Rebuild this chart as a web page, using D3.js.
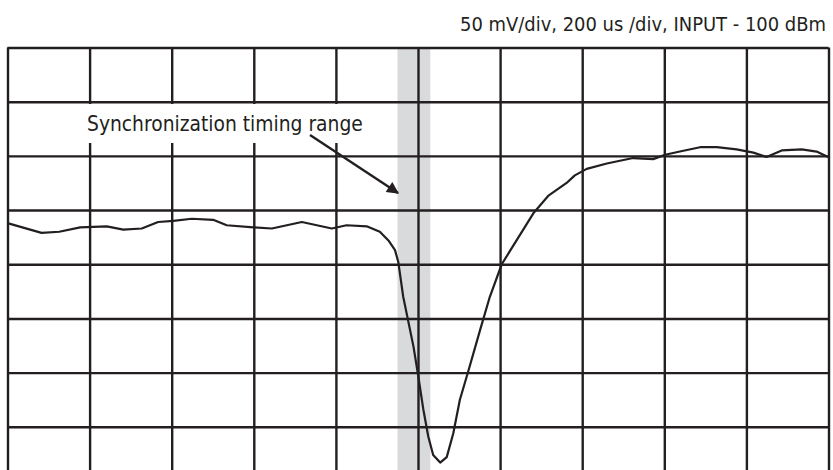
<!DOCTYPE html>
<html>
<head>
<meta charset="utf-8">
<script src="https://cdn.jsdelivr.net/npm/d3@7"></script>
<style>
    body { margin: 0; background: #fff; }
    svg text { font-family: "Liberation Sans Narrow", "DejaVu Sans Condensed", "Arial Narrow", sans-serif; fill: #231f20; }
</style>
</head>
<body>
<div id="body"></div>
<script>
// scope settings (time in us, signal in mV above bottom graticule line)
var timeDomain = [0, 2000];
var voltDomain = [0, 400];
var timeTicks = [0, 200, 400, 600, 800, 1000, 1200, 1400, 1600, 1800, 2000];
var voltTicks = [0, 50, 100, 150, 200, 250, 300, 350, 400];
var syncRange = [950, 1030];

var traceTime = [0, 83, 126, 177, 242, 282, 327, 367, 404, 449, 501, 534, 599, 644, 717, 790, 826, 875, 907, 928, 944, 952, 964, 989, 1001, 1013, 1025, 1037, 1054, 1070, 1086, 1102, 1123, 1151, 1175, 1204, 1281, 1317, 1362, 1382, 1411, 1460, 1524, 1573, 1602, 1638, 1687, 1728, 1776, 1817, 1849, 1886, 1935, 1971, 1999];
var traceVolt = [238, 229, 230, 234, 235, 232, 233, 239, 240, 242, 241, 236, 234, 233, 239, 233, 236, 235, 230, 222, 213, 202, 170, 124, 96, 66, 41, 24, 17, 22, 44, 75, 102, 139, 170, 200, 247, 263, 275, 282, 288, 293, 298, 297, 301, 304, 308, 308, 306, 303, 299, 305, 306, 304, 299];

var title = '50 mV/div, 200 us /div, INPUT - 100 dBm';
var note = 'Synchronization timing range';

var width = 833, height = 470;
var margins = {left: 7.5, right: 4.5, top: 47.5, bottom: -11};
var ink = '#231f20';

var svg = d3.select('#body').append('svg')
    .attr('width', width)
    .attr('height', height);

var x = d3.scaleLinear().domain(timeDomain).range([margins.left, width - margins.right]);
var y = d3.scaleLinear().domain(voltDomain).range([height - margins.bottom, margins.top]);

// shrink/grow a text's font so it spans the wanted width
function fitText(sel, target) {
    let size = 21;
    sel.attr('font-size', size);
    let w = sel.node().getComputedTextLength();
    size = Math.min(22, size * target / w);
    sel.attr('font-size', size.toFixed(2));
}

// sync band sits under the graticule
svg.append('rect')
    .attr('x', x(syncRange[0]))
    .attr('y', y(voltDomain[1]))
    .attr('width', x(syncRange[1]) - x(syncRange[0]))
    .attr('height', y(voltDomain[0]) - y(voltDomain[1]))
    .attr('fill', '#d9dadc');

// graticule from axes
svg.append('g')
    .attr('class', 'grid x')
    .attr('transform', `translate(0, ${y(voltDomain[0])})`)
    .call(d3.axisBottom(x).tickValues(timeTicks).tickSize(-(y(voltDomain[0]) - y(voltDomain[1]))).tickFormat(''));
svg.append('g')
    .attr('class', 'grid y')
    .attr('transform', `translate(${x(timeDomain[0])}, 0)`)
    .call(d3.axisLeft(y).tickValues(voltTicks).tickSize(-(x(timeDomain[1]) - x(timeDomain[0]))).tickFormat(''));
svg.selectAll('.grid .domain').remove();
svg.selectAll('.grid line')
    .attr('stroke', ink)
    .attr('stroke-width', 2.4);

// label box knocks out the grid behind the text
svg.append('rect')
    .attr('x', 74)
    .attr('y', 104)
    .attr('width', 300)
    .attr('height', 39)
    .attr('fill', '#fff');

let noteText = svg.append('text')
    .attr('x', 87)
    .attr('y', 131)
    .text(note);
fitText(noteText, 276);

// arrow
svg.append('defs').append('marker')
    .attr('id', 'arrow')
    .attr('viewBox', '0 0 10 10')
    .attr('refX', 9)
    .attr('refY', 5)
    .attr('markerWidth', 6)
    .attr('markerHeight', 5)
    .attr('markerUnits', 'strokeWidth')
    .attr('orient', 'auto')
    .append('path')
    .attr('d', 'M0,0 L10,5 L0,10 Z')
    .attr('fill', ink);

svg.append('line')
    .attr('x1', 310)
    .attr('y1', 135)
    .attr('x2', 398)
    .attr('y2', 193)
    .attr('stroke', ink)
    .attr('stroke-width', 2.4)
    .attr('marker-end', 'url(#arrow)');

// trace
var points = traceTime.map((t, i) => [t, traceVolt[i]]);
var line = d3.line()
    .x(d => x(d[0]))
    .y(d => y(d[1]));

svg.append('path')
    .datum(points)
    .attr('d', line)
    .attr('fill', 'none')
    .attr('stroke', ink)
    .attr('stroke-width', 2.2)
    .attr('stroke-linejoin', 'round');

let titleText = svg.append('text')
    .attr('x', 826)
    .attr('y', 30.5)
    .attr('text-anchor', 'end')
    .text(title);
fitText(titleText, 366);
</script>
</body>
</html>
